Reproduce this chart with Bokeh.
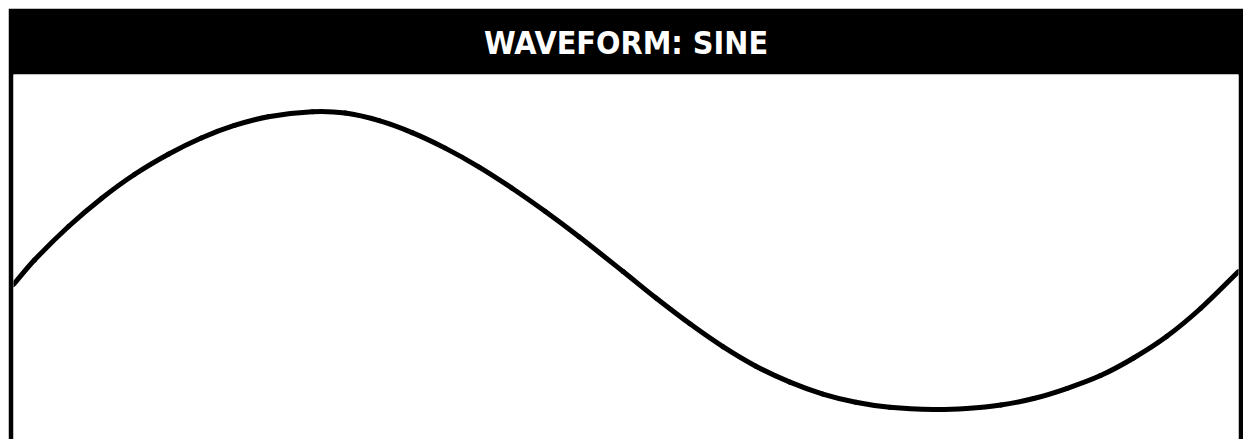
from bokeh.plotting import figure
from bokeh.models import Range1d, ColumnDataSource, Spacer
from bokeh.layouts import column, row
from bokeh.embed import file_html
from bokeh.resources import INLINE

# Waveform samples: time within one period (ms) and normalized amplitude
title_text = "WAVEFORM: SINE"
t_ms = [0, 17.1, 44.9, 71.8, 98.7, 126.4, 153.3, 180.3, 208.0, 243.9, 270.8,
        298.5, 325.4, 352.4, 380.1, 407.0, 433.9, 461.7, 497.6, 524.5, 552.2,
        579.1, 606.0, 633.8, 660.7, 687.6, 715.3, 751.2, 778.1, 805.9, 832.8,
        859.7, 887.4, 914.4, 941.3, 969.0, 1000]
amplitude = [-0.161, 0.003, 0.228, 0.416, 0.577, 0.713, 0.822, 0.906, 0.965,
             0.998, 0.989, 0.938, 0.858, 0.754, 0.627, 0.485, 0.330, 0.159,
             -0.074, -0.252, -0.425, -0.578, -0.709, -0.816, -0.896, -0.951,
             -0.985, -1.000, -0.993, -0.970, -0.926, -0.859, -0.772, -0.654,
             -0.510, -0.322, -0.074]

# Smooth curve through the samples (cubic Hermite -> Bezier segments)
n = len(t_ms)
slopes = []
for i in range(n):
    a = max(i - 1, 0)
    b = min(i + 1, n - 1)
    slopes.append((amplitude[b] - amplitude[a]) / (t_ms[b] - t_ms[a]))
seg = dict(x0=[], y0=[], x1=[], y1=[], cx0=[], cy0=[], cx1=[], cy1=[])
for i in range(n - 1):
    h = t_ms[i + 1] - t_ms[i]
    seg["x0"].append(t_ms[i]); seg["y0"].append(amplitude[i])
    seg["x1"].append(t_ms[i + 1]); seg["y1"].append(amplitude[i + 1])
    seg["cx0"].append(t_ms[i] + h / 3)
    seg["cy0"].append(amplitude[i] + slopes[i] * h / 3)
    seg["cx1"].append(t_ms[i + 1] - h / 3)
    seg["cy1"].append(amplitude[i + 1] - slopes[i + 1] * h / 3)
src = ColumnDataSource(seg)

p = figure(width=1235, height=431, output_backend="svg", toolbar_location=None,
           x_range=Range1d(0, 1000), y_range=Range1d(-1.201, 1.248),
           min_border_left=5, min_border_right=5, min_border_top=66,
           min_border_bottom=0)
p.border_fill_color = "black"
p.background_fill_color = "white"
p.outline_line_color = None
p.axis.visible = False
p.grid.visible = False

p.title.text = title_text
p.title.align = "center"
p.title.text_color = "white"
p.title.text_font = "DejaVu Sans Condensed"
p.title.text_font_style = "bold"
p.title.text_font_size = "32px"
p.title.standoff = 26

p.bezier(x0="x0", y0="y0", x1="x1", y1="y1", cx0="cx0", cy0="cy0",
         cx1="cx1", cy1="cy1", source=src, line_color="black",
         line_width=5, line_cap="round")

layout = column(Spacer(height=8), row(Spacer(width=8), p))
open("out.html", "w").write(file_html(layout, INLINE))
